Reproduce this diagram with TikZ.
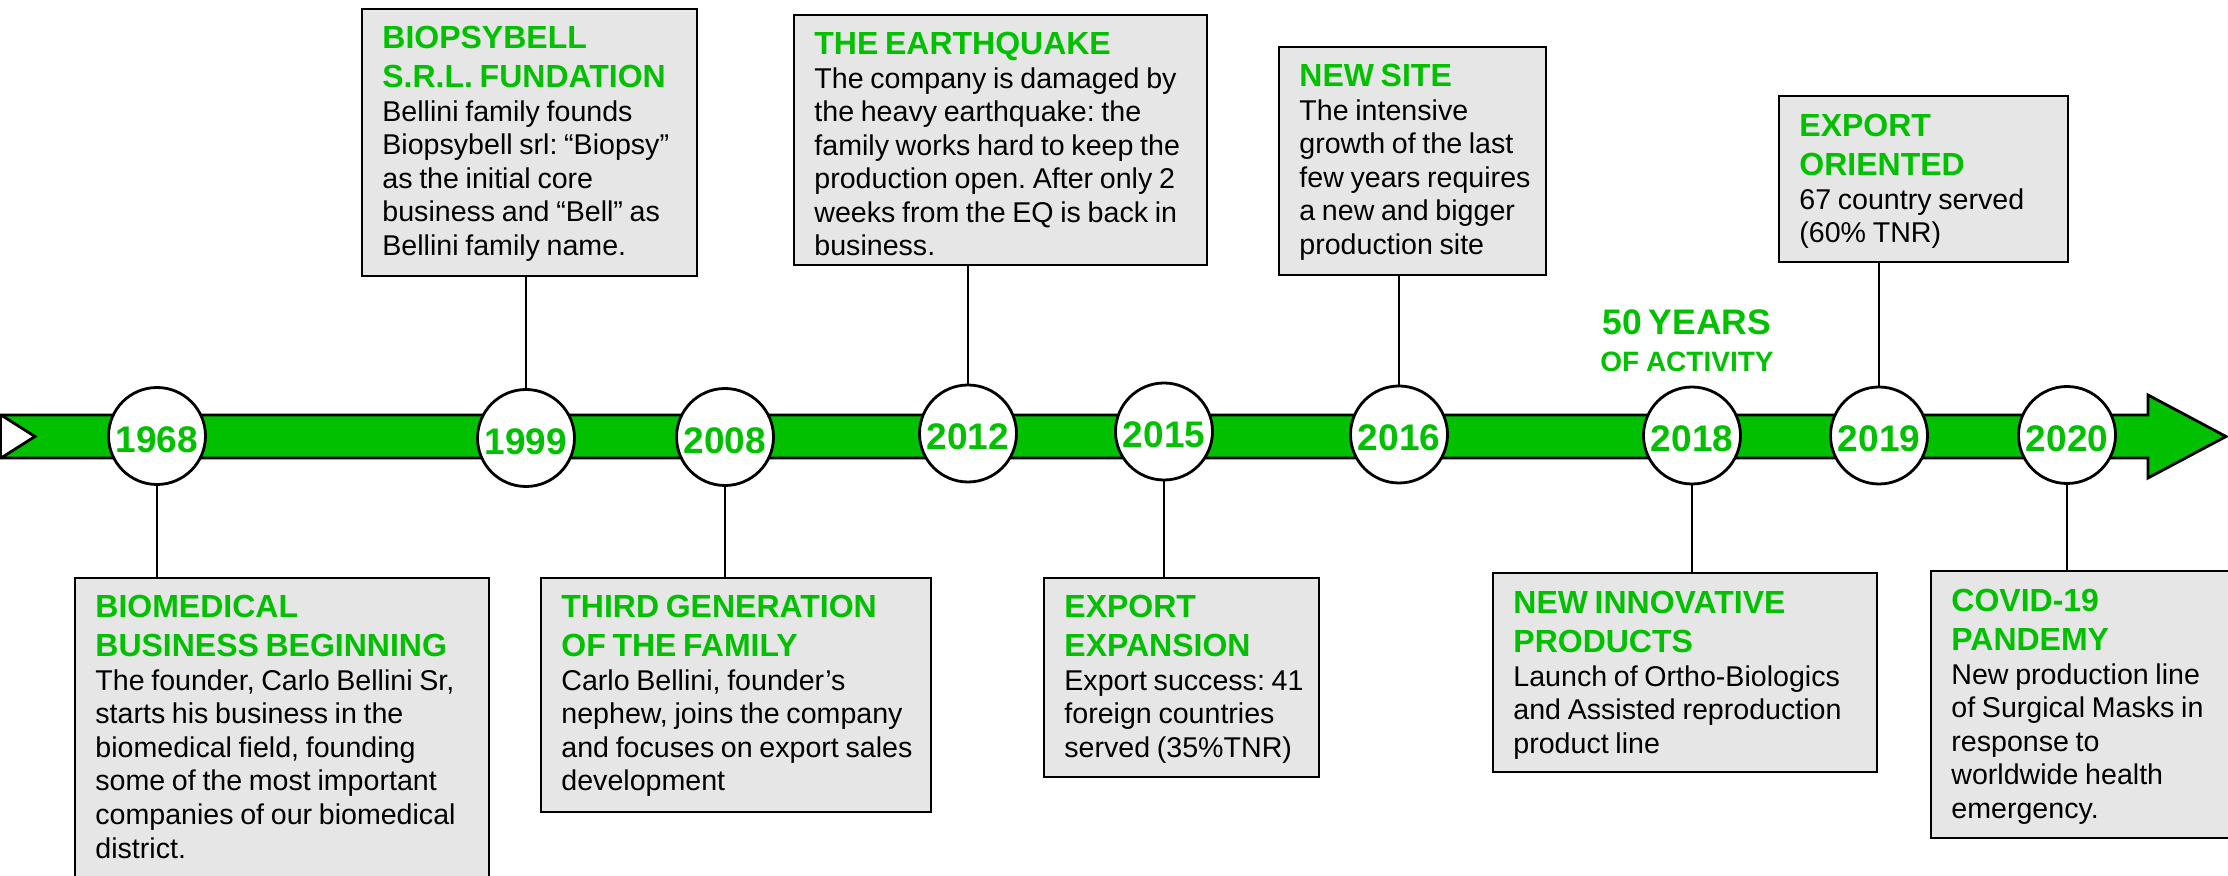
\documentclass[tikz,border=0pt]{standalone}
\usepackage{fontspec}
\setmainfont{Liberation Sans}
\frenchspacing
\definecolor{tgreen}{RGB}{0,192,0}
\definecolor{boxgray}{RGB}{230,230,230}
\newcommand{\ttl}{\fontsize{16pt}{19.5pt}\selectfont\bfseries\color{tgreen}}
\newcommand{\bdy}{\fontsize{14.3pt}{16.75pt}\selectfont}
\begin{document}
\begin{tikzpicture}[x=0.5pt,y=-0.5pt,
  evbox/.style={draw=black, line width=1.2pt, fill=boxgray, anchor=north west, inner sep=0pt, outer sep=0pt},
  evtext/.style={anchor=base west, inner sep=0pt, text width=210pt, align=left},
  yearc/.style={circle, draw=black, line width=1.4pt, fill=white, minimum size=48.5pt, inner sep=0pt,
    font=\fontsize{18.5pt}{20pt}\selectfont\bfseries, text=tgreen, text height=16.25pt, text depth=0pt},
  conn/.style={draw=black, line width=1pt},
  bar/.style={draw=black, line width=1.4pt, fill=tgreen, line join=miter}
]
\useasboundingbox (0,0) rectangle (2228,876);
\clip (0,0) rectangle (2228,876);

% timeline arrow
\draw[bar] (1,415) -- (2148,415) -- (2148,395) -- (2226,436.5) -- (2148,478) -- (2148,458) -- (1,458) -- (35,436.5) -- cycle;
\draw[line width=1.2pt] (1,415) -- (1,458);

% boxes
\node[evbox, minimum width=207pt, minimum height=161pt] (b1968) at (75,578) {};
\node[evbox, minimum width=167.5pt, minimum height=133.5pt] (b1999) at (362,9) {};
\node[evbox, minimum width=195pt, minimum height=117pt] (b2008) at (541,578) {};
\node[evbox, minimum width=206.5pt, minimum height=125pt] (b2012) at (794,15) {};
\node[evbox, minimum width=137.5pt, minimum height=99.5pt] (b2015) at (1044,578) {};
\node[evbox, minimum width=133.5pt, minimum height=114pt] (b2016) at (1279,47) {};
\node[evbox, minimum width=192pt, minimum height=99.5pt] (b2018) at (1493,573) {};
\node[evbox, minimum width=144.5pt, minimum height=83pt] (b2019) at (1779,96) {};
\node[evbox, minimum width=154.5pt, minimum height=133.5pt] (b2020) at (1931,571) {};

% box texts
\node[evtext] (t1968) at ([shift={(20,40)}]b1968.north west)
  {{\ttl BIOMEDICAL\\BUSINESS BEGINNING\par}\bdy The founder, Carlo Bellini Sr,\\starts his business in the\\biomedical field, founding\\some of the most important\\companies of our biomedical\\district.\par};
\node[evtext] (t1999) at ([shift={(20,40)}]b1999.north west)
  {{\ttl BIOPSYBELL\\S.R.L. FUNDATION\par}\bdy Bellini family founds\\Biopsybell srl: “Biopsy”\\as the initial core\\business and “Bell” as\\Bellini family name.\par};
\node[evtext] (t2008) at ([shift={(20,40)}]b2008.north west)
  {{\ttl THIRD GENERATION\\OF THE FAMILY\par}\bdy Carlo Bellini, founder’s\\nephew, joins the company\\and focuses on export sales\\development\par};
\node[evtext] (t2012) at ([shift={(20,40)}]b2012.north west)
  {{\ttl THE EARTHQUAKE\par}\bdy The company is damaged by\\the heavy earthquake: the\\family works hard to keep the\\production open. After only 2\\weeks from the EQ is back in\\business.\par};
\node[evtext] (t2015) at ([shift={(20,40)}]b2015.north west)
  {{\ttl EXPORT\\EXPANSION\par}\bdy Export success: 41\\foreign countries\\served (35\%TNR)\par};
\node[evtext] (t2016) at ([shift={(20,40)}]b2016.north west)
  {{\ttl NEW SITE\par}\bdy The intensive\\growth of the last\\few years requires\\a new and bigger\\production site\par};
\node[evtext] (t2018) at ([shift={(20,41)}]b2018.north west)
  {{\ttl NEW INNOVATIVE\\PRODUCTS\par}\bdy Launch of Ortho-Biologics\\and Assisted reproduction\\product line\par};
\node[evtext] (t2019) at ([shift={(20,41)}]b2019.north west)
  {{\ttl EXPORT\\ORIENTED\par}\bdy 67 country served\\(60\% TNR)\par};
\node[evtext] (t2020) at ([shift={(20,41)}]b2020.north west)
  {{\ttl COVID-19\\PANDEMY\par}\bdy New production line\\of Surgical Masks in\\response to\\worldwide health\\emergency.\par};

% year circles
\node[yearc] (c1968) at (157,436) {1968};
\node[yearc] (c1999) at (526,438) {1999};
\node[yearc] (c2008) at (725,437) {2008};
\node[yearc] (c2012) at (968,433.5) {2012};
\node[yearc] (c2015) at (1164,431.5) {2015};
\node[yearc] (c2016) at (1399,434.5) {2016};
\node[yearc] (c2018) at (1692,435.5) {2018};
\node[yearc] (c2019) at (1879,435.5) {2019};
\node[yearc] (c2020) at (2067,435) {2020};

% connectors
\draw[conn] (c1968.south) -- (c1968.south |- b1968.north);
\draw[conn] (c1999.north) -- (c1999.north |- b1999.south);
\draw[conn] (c2008.south) -- (c2008.south |- b2008.north);
\draw[conn] (c2012.north) -- (c2012.north |- b2012.south);
\draw[conn] (c2015.south) -- (c2015.south |- b2015.north);
\draw[conn] (c2016.north) -- (c2016.north |- b2016.south);
\draw[conn] (c2018.south) -- (c2018.south |- b2018.north);
\draw[conn] (c2019.north) -- (c2019.north |- b2019.south);
\draw[conn] (c2020.south) -- (c2020.south |- b2020.north);

% 50 years label
\node[anchor=base, inner sep=0pt, text width=130pt, align=center, text=tgreen, font=\bfseries] (fifty) at (1687,335)
  {{\fontsize{17.75pt}{18pt}\selectfont 50 YEARS\par}\fontsize{14pt}{18.5pt}\selectfont OF ACTIVITY\par};
\end{tikzpicture}
\end{document}
